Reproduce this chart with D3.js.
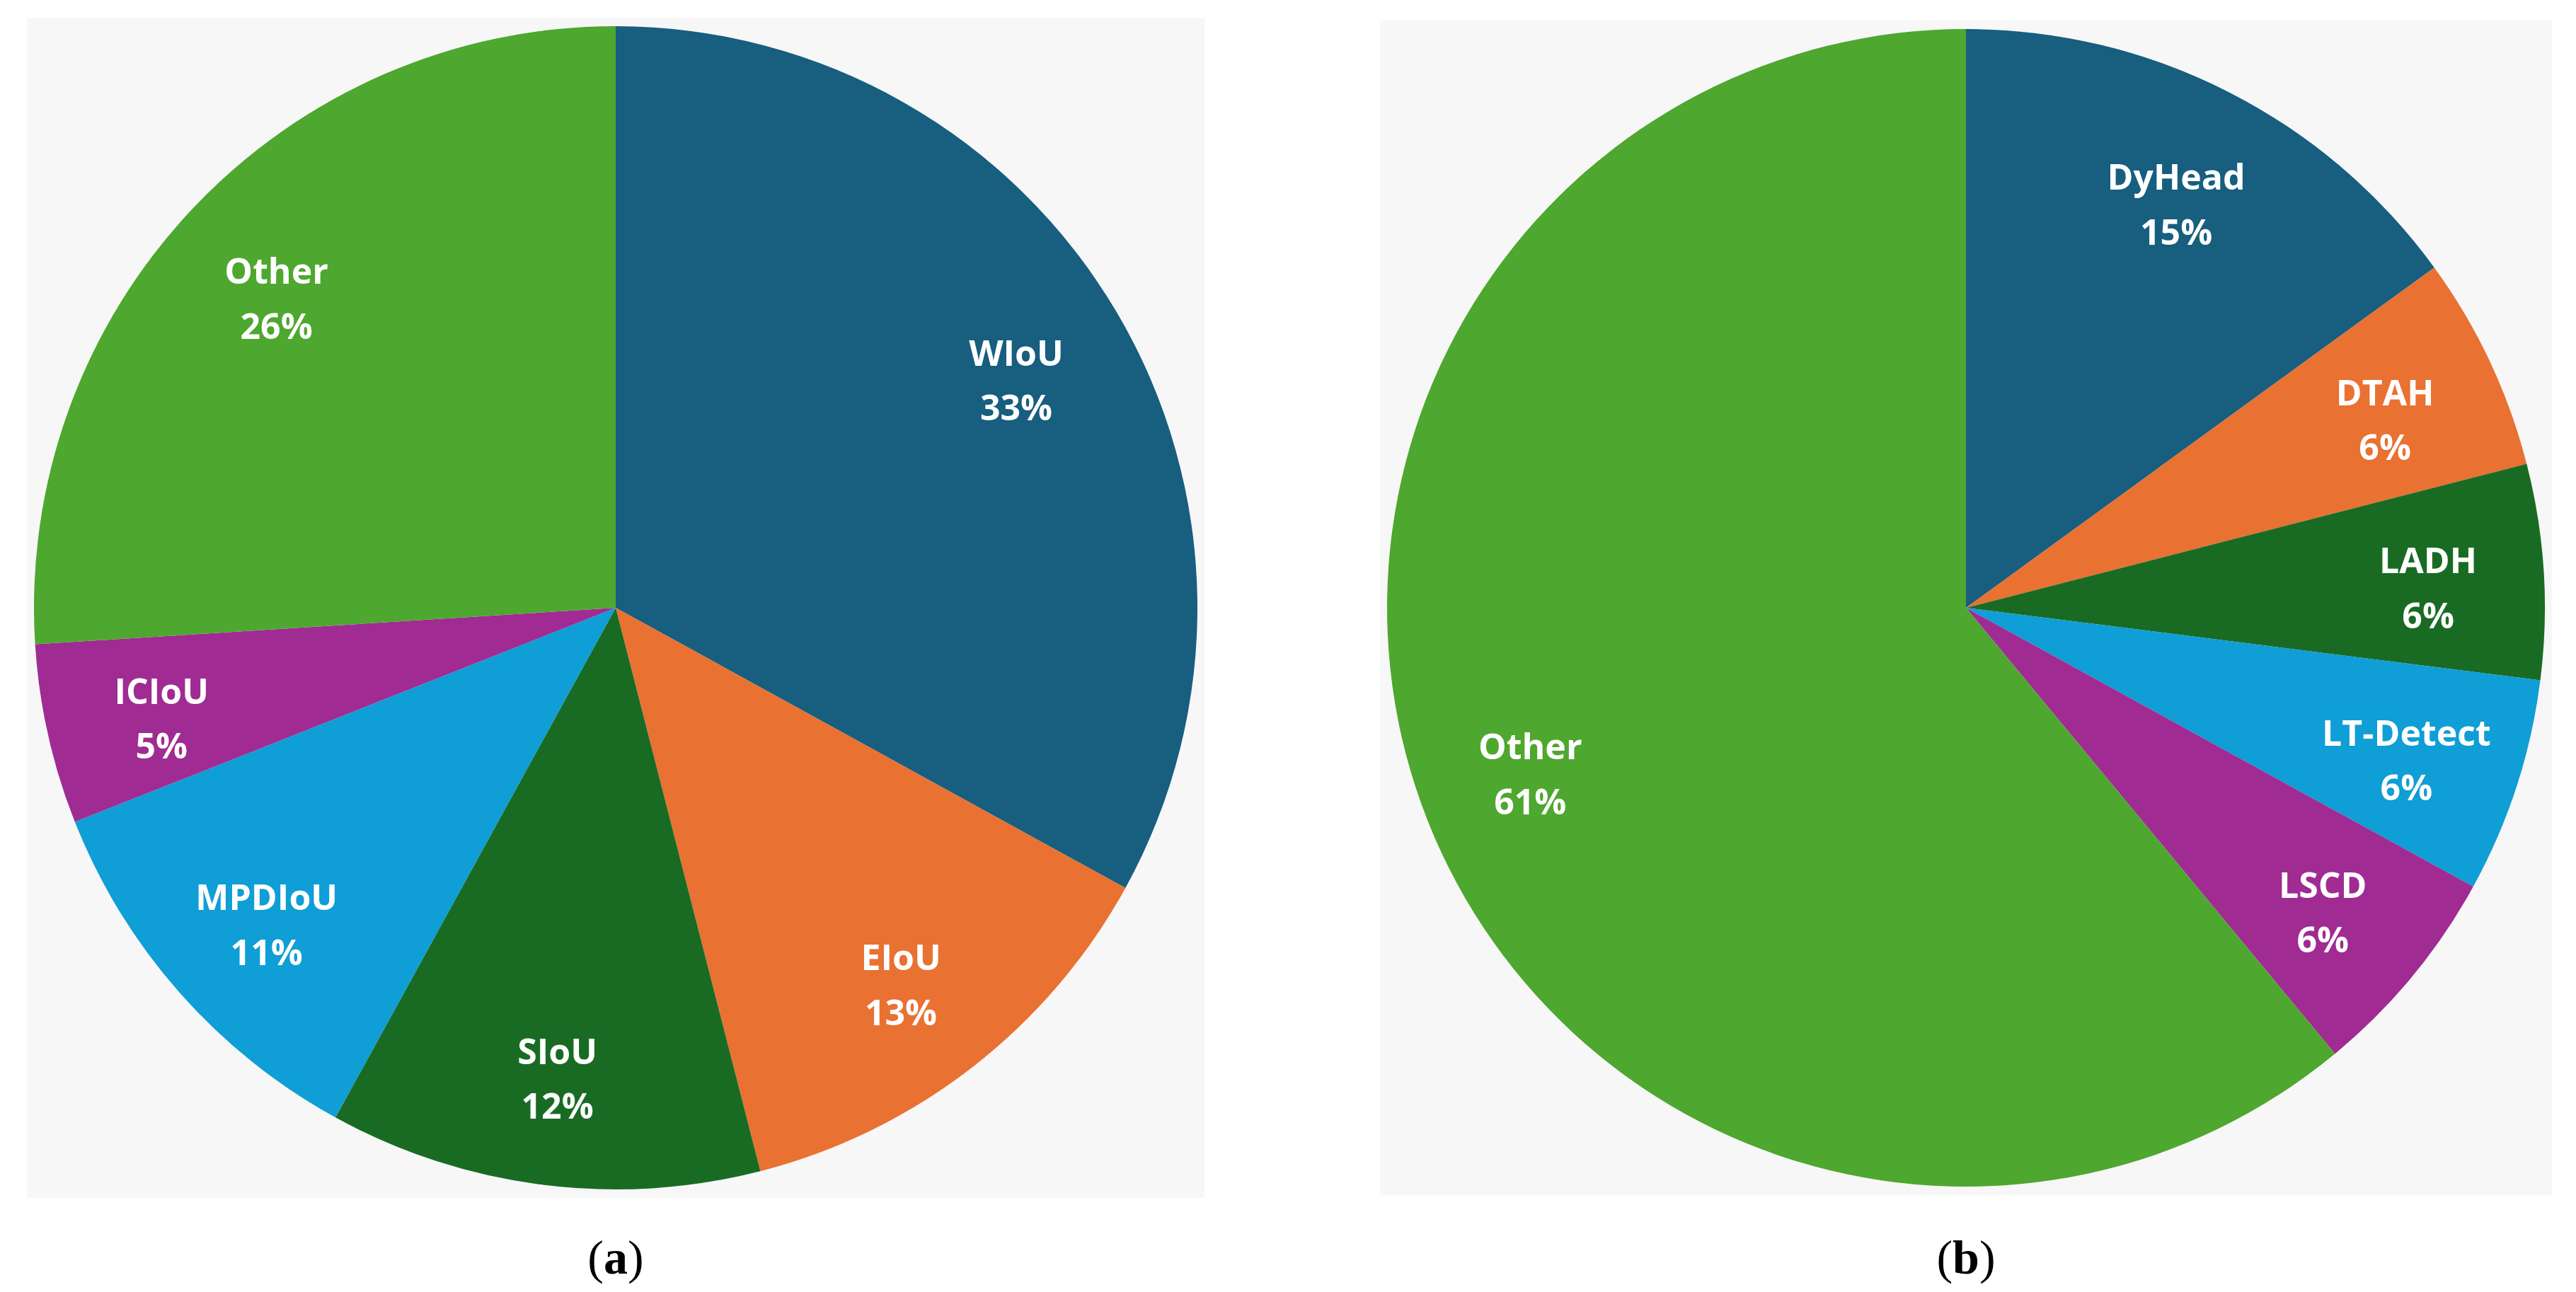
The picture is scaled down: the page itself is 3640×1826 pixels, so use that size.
<!DOCTYPE html>
<html>
<head>
<meta charset="utf-8">
<script src="https://cdn.jsdelivr.net/npm/d3@7"></script>
<style>
  body { margin: 0; background: #fff; }
</style>
</head>
<body>
<svg id="chart" width="3640" height="1826"></svg>
<script>
// left pie: loss functions
var lossNames = ["WIoU", "EIoU", "SIoU", "MPDIoU", "ICIoU", "Other"];
var lossValues = [33, 13, 12, 11, 5, 26];
// right pie: detection heads
var headNames = ["DyHead", "DTAH", "LADH", "LT-Detect", "LSCD", "Other"];
var headValues = [15, 6, 6, 6, 6, 61];
var captions = ["a", "b"];

var colors = ["#175E7F", "#E97132", "#196B24", "#0F9ED5", "#A02B93", "#4EA72E"];

var svg = d3.select("#chart");

var defs = svg.append("defs");
var grad = defs.append("radialGradient").attr("id", "halo");
grad.append("stop").attr("offset", "0.9").attr("stop-color", "#e6e6e6");
grad.append("stop").attr("offset", "1").attr("stop-color", "#ffffff");

function drawPie(names, values, cx, cy, r, caption) {
  var g = svg.append("g").attr("transform", "translate(" + cx + "," + cy + ")");

  g.append("rect")
    .attr("x", -r - 10).attr("y", -r - 12)
    .attr("width", 2 * r + 20).attr("height", 2 * r + 24)
    .attr("fill", "#f7f7f7");

  var data = names.map((n, i) => ({ name: n, value: values[i], color: colors[i] }));
  var pie = d3.pie().sort(null).value(d => d.value);
  var arc = d3.arc().innerRadius(0).outerRadius(r);
  var labelArc = d3.arc().innerRadius(r * 0.8).outerRadius(r * 0.8);
  var arcs = pie(data);

  g.selectAll("path.slice")
    .data(arcs)
    .enter()
    .append("path")
    .attr("class", "slice")
    .attr("d", arc)
    .attr("fill", d => d.data.color);

  var labels = g.selectAll("text.lbl")
    .data(arcs)
    .enter()
    .append("text")
    .attr("class", "lbl")
    .attr("transform", d => "translate(" + labelArc.centroid(d) + ")")
    .attr("text-anchor", "middle")
    .attr("fill", "#ffffff")
    .attr("font-family", "'Open Sans', sans-serif")
    .attr("font-weight", "bold")
    .attr("font-size", 50);
  labels.append("tspan").attr("x", 0).attr("dy", "-0.15em").text(d => d.data.name);
  labels.append("tspan").attr("x", 0).attr("dy", "1.55em").text(d => d.data.value + "%");

  var cap = svg.append("text")
    .attr("x", cx).attr("y", 1800)
    .attr("text-anchor", "middle")
    .attr("font-family", "'Liberation Serif', serif")
    .attr("font-size", 68)
    .attr("fill", "#000");
  cap.append("tspan").text("(");
  cap.append("tspan").attr("font-weight", "bold").text(caption);
  cap.append("tspan").text(")");
}

drawPie(lossNames, lossValues, 870, 859, 822, captions[0]);
drawPie(headNames, headValues, 2778, 859, 818, captions[1]);
</script>
</body>
</html>
